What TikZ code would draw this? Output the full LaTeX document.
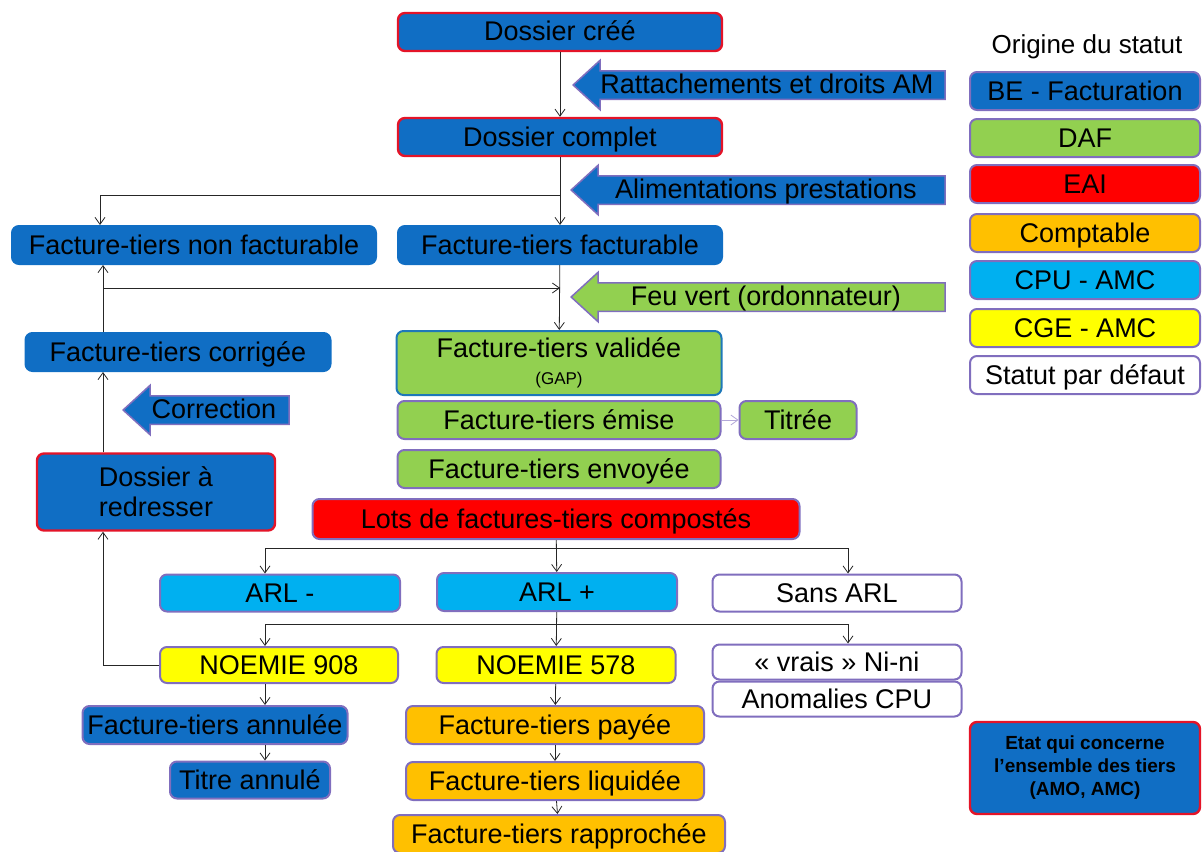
\documentclass[tikz,border=0pt]{standalone}
\usepackage{fontspec}
\setmainfont{Liberation Sans}
\usepackage{tikz}
\usetikzlibrary{arrows.meta,positioning,shapes.arrows}
\usepackage{xcolor}
\definecolor{bebleu}{RGB}{16,110,196}
\definecolor{dafvert}{RGB}{146,208,80}
\definecolor{eairouge}{RGB}{255,0,0}
\definecolor{comptorange}{RGB}{255,192,0}
\definecolor{cpubleu}{RGB}{0,176,240}
\definecolor{cgejaune}{RGB}{255,255,0}
\definecolor{bordmauve}{RGB}{128,110,190}
\definecolor{bordrouge}{RGB}{228,20,40}
\definecolor{bordbleu}{RGB}{30,120,185}

\begin{document}
\begin{tikzpicture}[x=1pt, y=-1pt,
  etat/.style={draw=bordmauve, line width=2pt, rounded corners=7pt, align=center, inner sep=0pt,
    minimum height=38pt, text height=21pt, text depth=3pt, font=\fontsize{27}{30}\selectfont},
  deuxlignes/.style={text height={}, text depth={}},
  dossier/.style={etat, fill=bebleu, draw=bordrouge, line width=2.4pt},
  bloc/.style={single arrow, shape border rotate=180, draw=bordmauve, line width=1.5pt,
    inner xsep=4pt, inner ysep=1.5pt, text height=20pt, text depth=4pt,
    single arrow head extend=10.5pt, single arrow tip angle=85, font=\fontsize{27}{30}\selectfont},
  fleche/.style={-{Straight Barb[length=7pt,width=10pt]}, line width=0.8pt, black!85}
]
  \useasboundingbox (0,0) rectangle (1204,851);

  % colonne principale
  \node[dossier, minimum width=324pt] (dcree) at (560,32) {Dossier créé};
  \node[bloc, fill=bebleu, minimum height=372pt, anchor=tip] (rattach) at (572,85) {Rattachements et droits AM};
  \node[dossier, minimum width=324pt] (dcomp) at (560,137) {Dossier complet};
  \node[bloc, fill=bebleu, minimum height=374pt, anchor=tip] (alim) at (570,190) {Alimentations prestations};
  \node[etat, fill=bebleu, draw=bebleu, minimum width=364pt] (nonfact) at (194,245) {Facture-tiers non facturable};
  \node[etat, fill=bebleu, draw=bebleu, minimum width=324pt] (ffact) at (560,245) {Facture-tiers facturable};
  \node[bloc, fill=dafvert, minimum height=374pt, anchor=tip] (feuvert) at (570,297) {Feu vert (ordonnateur)};
  \node[etat, fill=bebleu, draw=bebleu, minimum width=305pt] (corr) at (178,352) {Facture-tiers corrigée};
  \node[etat, deuxlignes, fill=dafvert, draw=bordbleu, minimum width=325pt, minimum height=64pt] (fval) at (559,363)
    {Facture-tiers validée\\[-3pt]{\fontsize{17}{18}\selectfont (GAP)}};
  \node[bloc, fill=bebleu, minimum height=166pt, anchor=tip] (correction) at (122,410) {Correction};
  \node[etat, fill=dafvert, minimum width=323pt] (femise) at (559,420) {Facture-tiers émise};
  \node[etat, fill=dafvert, minimum width=117pt] (titree) at (798,420) {Titrée};
  \node[etat, fill=dafvert, minimum width=323pt] (fenv) at (559,469) {Facture-tiers envoyée};
  \node[dossier, deuxlignes, minimum width=238pt, minimum height=77pt] (redr) at (156,492) {Dossier à\\redresser};
  \node[etat, fill=eairouge, minimum width=487pt, minimum height=40pt] (lots) at (556,519) {Lots de factures-tiers compostés};

  % retours ARL
  \node[etat, fill=cpubleu, minimum width=240pt, minimum height=37pt] (arlm) at (280,593) {ARL -};
  \node[etat, fill=cpubleu, minimum width=240pt] (arlp) at (557,592) {ARL +};
  \node[etat, fill=white, minimum width=249pt, minimum height=37pt] (sans) at (837,593) {Sans ARL};
  \node[etat, fill=cgejaune, minimum width=238pt, minimum height=36pt] (noe908) at (279,665) {NOEMIE 908};
  \node[etat, fill=cgejaune, minimum width=239pt, minimum height=36pt] (noe578) at (556,665) {NOEMIE 578};
  \node[etat, fill=white, minimum width=249pt, minimum height=35pt] (ninia) at (837,662) {« vrais » Ni-ni};
  \node[etat, fill=white, minimum width=249pt, minimum height=35pt] (anomal) at (837,699) {Anomalies CPU};
  \node[etat, fill=bebleu, minimum width=265pt] (annul) at (215,725) {Facture-tiers annulée};
  \node[etat, fill=bebleu, minimum width=160pt, minimum height=37pt] (titre) at (250,780) {Titre annulé};
  \node[etat, fill=comptorange, minimum width=298pt] (payee) at (555,725) {Facture-tiers payée};
  \node[etat, fill=comptorange, minimum width=298pt] (liqu) at (555,781) {Facture-tiers liquidée};
  \node[etat, fill=comptorange, minimum width=332pt] (rappr) at (559,834) {Facture-tiers rapprochée};

  % legende
  \node[font=\fontsize{26}{30}\selectfont] (origine) at (1087,47) {Origine du statut};
  \node[etat, fill=bebleu, minimum width=230pt] (lgbe) at (1085,91) {BE - Facturation};
  \node[etat, fill=dafvert, minimum width=230pt] (lgdaf) at (1085,138) {DAF};
  \node[etat, fill=eairouge, minimum width=230pt] (lgeai) at (1085,184) {EAI};
  \node[etat, fill=comptorange, minimum width=230pt] (lgcompt) at (1085,233) {Comptable};
  \node[etat, fill=cpubleu, minimum width=230pt] (lgcpu) at (1085,280) {CPU - AMC};
  \node[etat, fill=cgejaune, minimum width=230pt] (lgcge) at (1085,328) {CGE - AMC};
  \node[etat, fill=white, minimum width=230pt] (lgdefaut) at (1085,375) {Statut par défaut};
  \node[dossier, deuxlignes, minimum width=230pt, minimum height=92pt, font=\fontsize{19}{23}\selectfont\bfseries] (lgtous) at (1085,768)
    {Etat qui concerne\\l’ensemble des tiers\\(AMO, AMC)};

  % liaisons
  \draw[fleche] (dcree) -- (dcomp);
  \draw[fleche] (dcomp) -- (ffact);
  \coordinate (embA) at (dcomp.south |- 0,195);
  \draw[fleche] (embA) -| ([xshift=-94pt]nonfact.north);
  \draw[fleche] (ffact) -- (fval);
  \draw[fleche] ([xshift=-75pt]corr.north) -- ([xshift=-75pt]corr.north |- nonfact.south);
  \coordinate (embB) at ([xshift=-75pt]corr.north |- 0,288);
  \draw[fleche] (embB) -- (embB -| ffact.south);
  \draw[fleche] ([xshift=-53pt]redr.north) -- ([xshift=-53pt]redr.north |- corr.south);
  \draw[fleche] (noe908.west) -| ([xshift=-53pt]redr.south);
  \draw[fleche, draw=bordmauve!60] (femise) -- (titree);
  \draw[fleche] (lots) -- (arlp);
  \coordinate (embC) at (lots.south |- 0,548);
  \draw[fleche] (embC) -| ([xshift=-15pt]arlm.north);
  \draw[fleche] (embC) -| ([xshift=11pt]sans.north);
  \draw[fleche] (arlp) -- (noe578);
  \coordinate (embD) at (arlp.south |- 0,624);
  \draw[fleche] (embD) -| ([xshift=-14pt]noe908.north);
  \draw[fleche] (embD) -| ([xshift=11pt]ninia.north);
  \draw[fleche] ([xshift=-14pt]noe908.south) -- ([xshift=-14pt]noe908.south |- annul.north);
  \draw[fleche] ([xshift=50pt]annul.south) -- ([xshift=50pt]annul.south |- titre.north);
  \draw[fleche] (noe578) -- (payee);
  \draw[fleche] (payee) -- (liqu);
  \draw[fleche] (liqu) -- (rappr);
\end{tikzpicture}
\end{document}
